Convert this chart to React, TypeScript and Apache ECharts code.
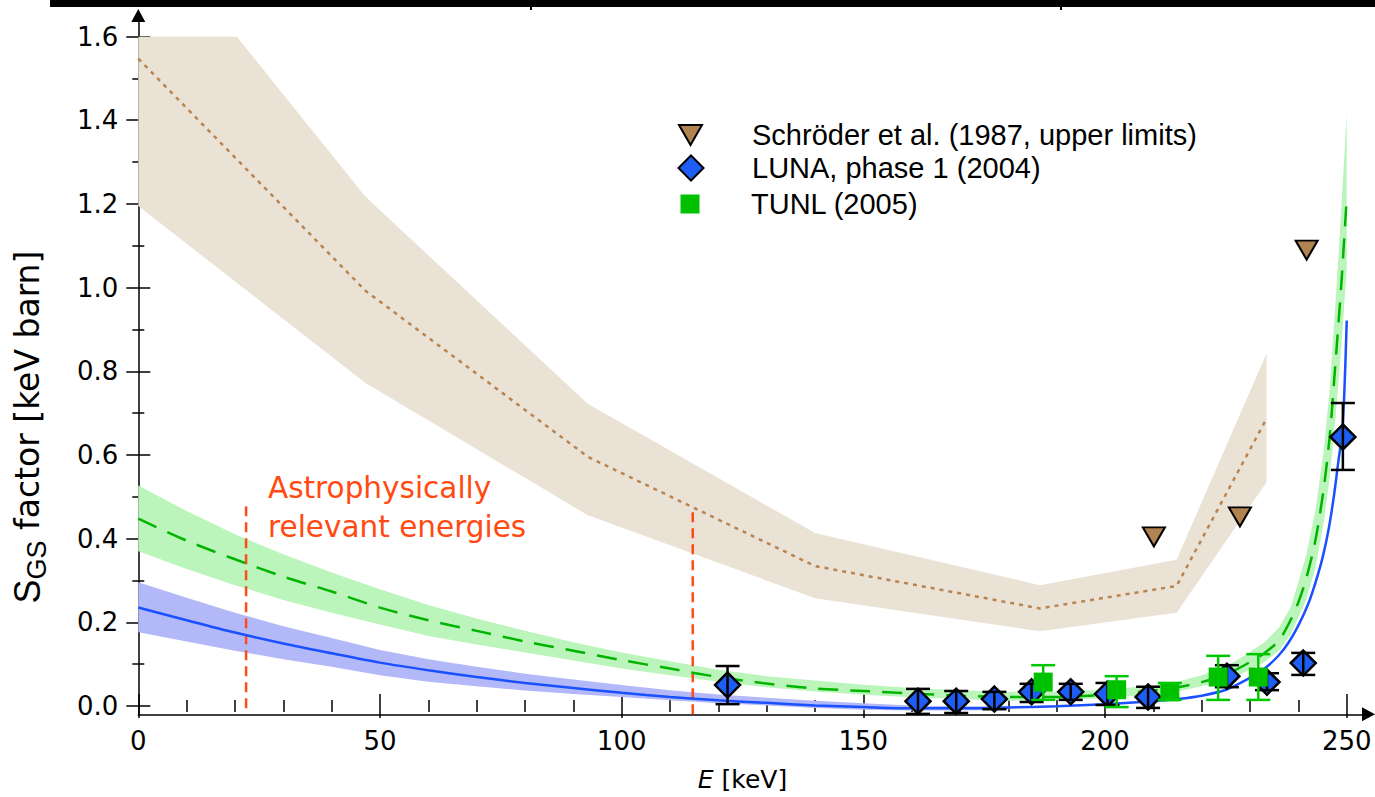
import React, { useEffect, useRef } from 'react';
import * as echarts from 'echarts';

// ---------- data ----------
// Schröder et al. (1987, upper limits)
const schroederE = [210.1, 227.9, 241.7];
const schroederS = [0.419, 0.466, 1.096];

// LUNA, phase 1 (2004)
const lunaE = [121.9, 161.3, 169.2, 177.1, 184.8, 192.9, 200.5, 208.9, 225.2, 233.5, 241.0, 249.2];
const lunaS = [0.069, 0.031, 0.031, 0.036, 0.053, 0.053, 0.048, 0.041, 0.090, 0.076, 0.121, 0.655];
const lunaLo = [0.024, 0.001, 0.003, 0.012, 0.029, 0.034, 0.022, 0.015, 0.064, 0.057, 0.093, 0.577];
const lunaHi = [0.114, 0.060, 0.055, 0.053, 0.072, 0.072, 0.074, 0.065, 0.116, 0.097, 0.145, 0.735];

// TUNL (2005)
const tunlE = [187.2, 202.4, 213.4, 223.4, 231.7];
const tunlS = [0.076, 0.058, 0.053, 0.088, 0.088];
const tunlLo = [0.034, 0.017, 0.034, 0.034, 0.034];
const tunlHi = [0.116, 0.090, 0.074, 0.138, 0.142];

// brown (Schröder fit) band and dotted line
const brownUpperE = [0, 20.4, 47, 93, 140, 186.5, 214.8, 233.4];
const brownUpperS = [1.6, 1.6, 1.222, 0.733, 0.428, 0.305, 0.365, 0.852];
const brownLowerE = [0, 47, 93, 140, 186.5, 214.8, 233.4];
const brownLowerS = [1.2, 0.782, 0.47, 0.274, 0.196, 0.24, 0.548];
const brownLineE = [0, 47, 93, 140, 186.5, 214.8, 233.4];
const brownLineS = [1.548, 1.0, 0.608, 0.35, 0.25, 0.303, 0.698];

// green (dashed) curve
const greenE = [0, 10, 20, 30, 40, 50, 60, 70, 80, 90, 100, 110, 120, 130, 140, 150, 160, 170, 180, 190, 200, 210, 215, 220, 225, 229, 233, 236, 238.5, 240, 241.6, 243.5, 245.2, 246.5, 247.6, 248.9, 250];
const greenMid = [0.462, 0.41, 0.366, 0.325, 0.29, 0.252, 0.222, 0.197, 0.172, 0.15, 0.128, 0.108, 0.088, 0.0725, 0.061, 0.055, 0.049, 0.044, 0.041, 0.041, 0.046, 0.056, 0.064, 0.076, 0.094, 0.117, 0.145, 0.175, 0.225, 0.265, 0.32, 0.41, 0.53, 0.66, 0.82, 1.02, 1.22];
// green band
const greenBandE = [0, 10, 20, 30, 40, 50, 60, 70, 80, 90, 100, 110, 120, 130, 140, 150, 160, 170, 180, 190, 200, 210, 215, 220, 225, 229, 233, 236, 238.5, 241.6, 243.5, 245.2, 246.5, 247.6, 248.9, 250];
const greenHigh = [0.54, 0.48, 0.425, 0.378, 0.335, 0.295, 0.258, 0.226, 0.197, 0.17, 0.146, 0.125, 0.105, 0.09, 0.08, 0.07, 0.062, 0.057, 0.053, 0.053, 0.058, 0.068, 0.077, 0.092, 0.112, 0.14, 0.17, 0.205, 0.255, 0.375, 0.48, 0.62, 0.77, 0.96, 1.2, 1.42];
const greenLow = [0.385, 0.343, 0.305, 0.27, 0.24, 0.212, 0.185, 0.165, 0.146, 0.127, 0.108, 0.092, 0.077, 0.064, 0.054, 0.046, 0.04, 0.036, 0.032, 0.033, 0.038, 0.047, 0.054, 0.066, 0.08, 0.1, 0.124, 0.15, 0.19, 0.27, 0.345, 0.45, 0.56, 0.69, 0.87, 1.05];

// blue (solid) curve and band
const blueE = [0, 10, 20, 30, 40, 50, 60, 70, 80, 90, 100, 110, 120, 130, 140, 150, 160, 170, 180, 190, 200, 210, 215, 220, 225, 229, 233, 236, 238, 240, 242, 243.5, 245, 246.3, 247.4, 248.3, 249, 249.5, 250];
const blueMid = [0.252, 0.222, 0.193, 0.167, 0.144, 0.122, 0.104, 0.088, 0.074, 0.062, 0.051, 0.041, 0.033, 0.027, 0.021, 0.017, 0.014, 0.014, 0.016, 0.019, 0.024, 0.031, 0.036, 0.044, 0.058, 0.08, 0.108, 0.14, 0.17, 0.21, 0.26, 0.31, 0.37, 0.44, 0.52, 0.6, 0.66, 0.76, 0.93];
const blueBandE = [0, 10, 20, 30, 40, 50, 60, 70, 80, 90, 100, 110, 120, 130, 140, 150, 160, 170, 180];
const blueHigh = [0.312, 0.275, 0.24, 0.208, 0.18, 0.152, 0.13, 0.112, 0.096, 0.082, 0.069, 0.057, 0.047, 0.039, 0.032, 0.026, 0.021, 0.019, 0.019];
const blueLow = [0.194, 0.172, 0.15, 0.13, 0.112, 0.092, 0.077, 0.066, 0.056, 0.048, 0.041, 0.033, 0.026, 0.021, 0.015, 0.011, 0.009, 0.009, 0.011];

// astrophysically relevant energy window
const relevantE = [22.3, 114.7];
const relevantBottom = [0.014, 0.0];
const relevantTop = [0.499, 0.487];

// axis ticks
const xTickMin = 0, xTickMax = 250, xTickStep = 50;
const yTickMin = 0, yTickMax = 1.6, yTickStep = 0.2;

const NAME_SCH = 'Schröder et al. (1987, upper limits)';
const NAME_LUNA = 'LUNA, phase 1 (2004)';
const NAME_TUNL = 'TUNL (2005)';

const TICK_FONT = 'DejaVu Sans';
const SANS = 'Liberation Sans';

function errorBars(color: string) {
  return (params: any, api: any) => {
    const x = api.value(0);
    const lo = api.value(1);
    const hi = api.value(2);
    const top = api.coord([x, hi]);
    const bot = api.coord([x, lo]);
    const hw = 12;
    const style = { stroke: color, lineWidth: 2.5, fill: 'none' };
    return {
      type: 'group',
      children: [
        { type: 'line', shape: { x1: top[0], y1: top[1], x2: bot[0], y2: bot[1] }, style },
        { type: 'line', shape: { x1: top[0] - hw, y1: top[1], x2: top[0] + hw, y2: top[1] }, style },
        { type: 'line', shape: { x1: bot[0] - hw, y1: bot[1], x2: bot[0] + hw, y2: bot[1] }, style },
      ],
    };
  };
}

// band polygon: upper edge left->right, lower edge right->left
function bandSeries(upE: number[], upS: number[], loE: number[], loS: number[], color: string, z: number) {
  return {
    type: 'custom', xAxisIndex: 0, yAxisIndex: 0, silent: true, z, data: [[upE[0], upS[0]]],
    renderItem: (params: any, api: any) => {
      const pts: number[][] = [];
      upE.forEach((e, i) => pts.push(api.coord([e, upS[i]])));
      for (let i = loE.length - 1; i >= 0; i--) pts.push(api.coord([loE[i], loS[i]]));
      return { type: 'polygon', shape: { points: pts }, style: { fill: color, stroke: 'none' } };
    },
  };
}

function tickAxis(dim: 'x' | 'y', inside: boolean) {
  const isX = dim === 'x';
  return {
    gridIndex: 1,
    type: 'value',
    position: isX ? 'bottom' : 'left',
    min: isX ? xTickMin : yTickMin,
    max: isX ? xTickMax : yTickMax,
    interval: isX ? xTickStep : yTickStep,
    axisLine: { show: false, onZero: false },
    axisTick: { show: true, inside, length: 12, lineStyle: { color: '#000', width: 1.5 } },
    minorTick: { show: true, splitNumber: isX ? 5 : 2, length: 6, lineStyle: { color: '#000', width: 1.5 } },
    splitLine: { show: false },
    minorSplitLine: { show: false },
    axisLabel: inside
      ? { show: false }
      : {
          show: true,
          color: '#000',
          fontFamily: TICK_FONT,
          fontSize: 26,
          margin: isX ? 22 : 20,
          formatter: isX ? (v: number) => String(v) : (v: number) => v.toFixed(1),
        },
    ...(isX && !inside
      ? {
          name: '{i|E} [keV]',
          nameLocation: 'middle',
          nameGap: 61,
          nameTextStyle: {
            color: '#000', fontFamily: TICK_FONT, fontSize: 25,
            rich: { i: { fontStyle: 'italic', fontFamily: TICK_FONT, fontSize: 25, color: '#000' } },
          },
        }
      : {}),
  };
}

export default function App() {
  const ref = useRef<HTMLDivElement>(null);

  useEffect(() => {
    if (!ref.current) return;
    const chart = echarts.init(ref.current, undefined, { renderer: 'svg' });

    const option: any = {
      animation: false,
      backgroundColor: '#fff',
      textStyle: { fontFamily: SANS },
      grid: [
        { left: 138.3, top: 15.5, width: 1230.2, height: 698.8 },
        { left: 138.3, top: 36.5, width: 1208.4, height: 677.8 },
      ],
      xAxis: [
        {
          gridIndex: 0, type: 'value', min: 0, max: 254.5,
          axisLine: { show: true, onZero: false, symbol: ['none', 'triangle'], symbolSize: [14, 13], lineStyle: { color: '#000', width: 1.5 } },
          axisTick: { show: false }, axisLabel: { show: false }, splitLine: { show: false },
        },
        tickAxis('x', false),
        tickAxis('x', true),
      ],
      yAxis: [
        {
          gridIndex: 0, type: 'value', min: 0, max: 1.65,
          axisLine: { show: true, onZero: false, symbol: ['none', 'triangle'], symbolSize: [14, 13], lineStyle: { color: '#000', width: 1.5 } },
          axisTick: { show: false }, axisLabel: { show: false }, splitLine: { show: false },
        },
        tickAxis('y', false),
        tickAxis('y', true),
      ],
      legend: [
        {
          data: [{ name: NAME_SCH, icon: 'path://M0,0L22,0L11,19Z' }],
          left: 678, top: 120.5, padding: 0, itemWidth: 23, itemHeight: 20, selectedMode: false,
          itemStyle: { borderColor: '#000', borderWidth: 2 },
          textStyle: { fontFamily: SANS, fontSize: 29, color: '#000', padding: [0, 0, 0, 45] },
        },
        {
          data: [NAME_LUNA], left: 677.5, top: 153.5, padding: 0, itemWidth: 25, itemHeight: 25, selectedMode: false,
          itemStyle: { borderColor: '#000', borderWidth: 2 },
          textStyle: { fontFamily: SANS, fontSize: 29, color: '#000', padding: [0, 0, 0, 43.5] },
        },
        {
          data: [NAME_TUNL], left: 680.5, top: 189.5, padding: 0, itemWidth: 19, itemHeight: 19, selectedMode: false,
          itemStyle: { borderWidth: 0 },
          textStyle: { fontFamily: SANS, fontSize: 29, color: '#000', padding: [0, 0, 0, 46.5] },
        },
      ],
      graphic: [
        { type: 'rect', shape: { x: 50, y: 0, width: 1325, height: 7 }, style: { fill: '#000' }, z: 100 },
        { type: 'rect', shape: { x: 530, y: 0, width: 2, height: 10 }, style: { fill: '#000' }, z: 100 },
        { type: 'rect', shape: { x: 1060, y: 0, width: 2, height: 10 }, style: { fill: '#000' }, z: 100 },
        {
          type: 'text', x: 27, y: 427, rotation: Math.PI / 2, z: 100,
          style: {
            text: '{s|S}{sub|GS}{n| factor [keV barn]}',
            align: 'center', verticalAlign: 'middle', fill: '#000',
            rich: {
              s: { fontFamily: SANS, fontSize: 36, fill: '#000', lineHeight: 46 },
              sub: { fontFamily: SANS, fontSize: 27, fill: '#000', verticalAlign: 'bottom', lineHeight: 46 },
              n: { fontFamily: TICK_FONT, fontSize: 33, fill: '#000', lineHeight: 46 },
            },
          },
        },
        {
          type: 'text', x: 268, y: 488, z: 100,
          style: { text: 'Astrophysically', fontFamily: TICK_FONT, fontSize: 29.5, fill: '#ff4a12', align: 'left', verticalAlign: 'middle' },
        },
        {
          type: 'text', x: 268, y: 527, z: 100,
          style: { text: 'relevant energies', fontFamily: TICK_FONT, fontSize: 29.5, fill: '#ff4a12', align: 'left', verticalAlign: 'middle' },
        },
      ],
      series: [
        bandSeries(brownUpperE, brownUpperS, brownLowerE, brownLowerS, '#ebe2d6', 1),
        bandSeries(greenBandE, greenHigh, greenBandE, greenLow, '#bcf5bc', 2),
        bandSeries(blueBandE, blueHigh, blueBandE, blueLow, '#b3b8f8', 2),
        {
          type: 'line', xAxisIndex: 0, yAxisIndex: 0, silent: true, symbol: 'none', z: 3,
          data: brownLineE.map((e, i) => [e, brownLineS[i]]),
          lineStyle: { color: '#b8844f', width: 2.5, type: [4, 5] },
        },
        ...relevantE.map((e, i) => ({
          type: 'line', xAxisIndex: 0, yAxisIndex: 0, silent: true, symbol: 'none', z: 3,
          data: [[e, relevantBottom[i]], [e, relevantTop[i]]],
          lineStyle: { color: '#ff4a1a', width: 2.5, type: [10, 6] },
        })),
        {
          type: 'line', xAxisIndex: 0, yAxisIndex: 0, silent: true, symbol: 'none', smooth: 0.3, z: 3,
          data: greenE.map((e, i) => [e, greenMid[i]]),
          lineStyle: { color: '#00b400', width: 2.5, type: [20, 12] },
        },
        {
          type: 'line', xAxisIndex: 0, yAxisIndex: 0, silent: true, symbol: 'none', smooth: 0.3, z: 3,
          data: blueE.map((e, i) => [e, blueMid[i]]),
          lineStyle: { color: '#1a50ff', width: 2.5 },
        },
        {
          name: NAME_SCH, type: 'scatter', xAxisIndex: 0, yAxisIndex: 0, z: 5,
          data: schroederE.map((e, i) => [e, schroederS[i]]),
          symbol: 'triangle', symbolRotate: 180, symbolSize: [22, 19],
          itemStyle: { color: '#b08350', borderColor: '#000', borderWidth: 2, opacity: 1 },
        },
        {
          name: NAME_LUNA, type: 'scatter', xAxisIndex: 0, yAxisIndex: 0, z: 5,
          data: lunaE.map((e, i) => [e, lunaS[i]]),
          symbol: 'diamond', symbolSize: 25,
          itemStyle: { color: '#1f5ef5', borderColor: '#000', borderWidth: 2.5, opacity: 1 },
        },
        {
          type: 'custom', xAxisIndex: 0, yAxisIndex: 0, silent: true, z: 6,
          data: lunaE.map((e, i) => [e, lunaLo[i], lunaHi[i]]),
          encode: { x: 0, y: [1, 2] },
          renderItem: errorBars('#000'),
        },
        {
          name: NAME_TUNL, type: 'scatter', xAxisIndex: 0, yAxisIndex: 0, z: 7,
          data: tunlE.map((e, i) => [e, tunlS[i]]),
          symbol: 'rect', symbolSize: 19,
          itemStyle: { color: '#00c000', borderWidth: 0, opacity: 1 },
        },
        {
          type: 'custom', xAxisIndex: 0, yAxisIndex: 0, silent: true, z: 8,
          data: tunlE.map((e, i) => [e, tunlLo[i], tunlHi[i]]),
          encode: { x: 0, y: [1, 2] },
          renderItem: errorBars('#00c800'),
        },
      ],
    };

    chart.setOption(option);
    return () => chart.dispose();
  }, []);

  return (
    <div
      ref={ref}
      style={{ position: 'fixed', left: 0, top: 0, width: 1375, height: 797, background: '#fff' }}
    />
  );
}
